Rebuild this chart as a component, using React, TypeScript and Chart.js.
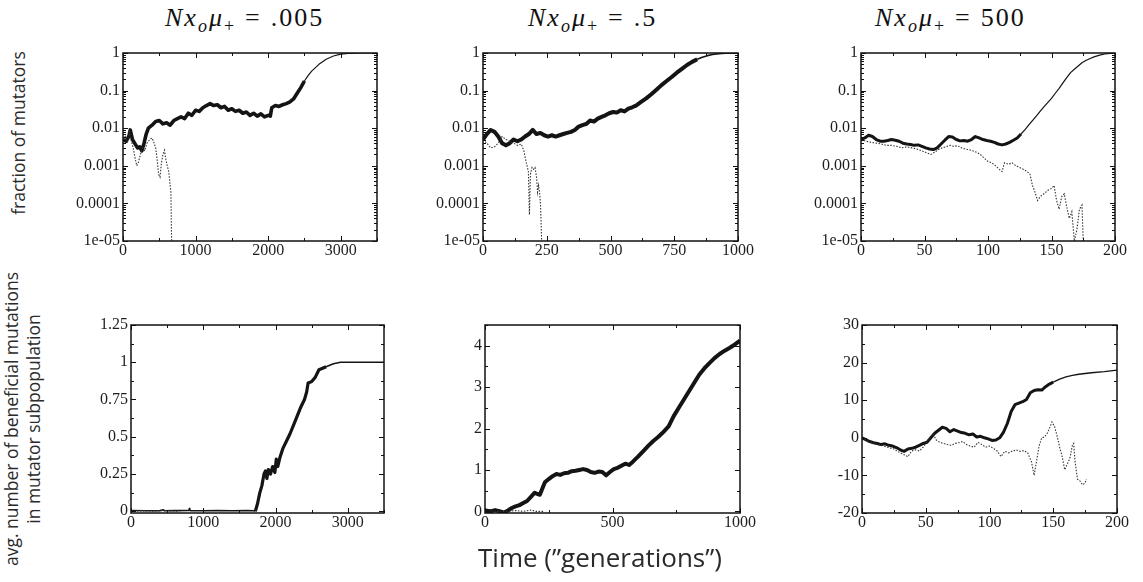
import React, { useEffect, useRef } from 'react';
import { Chart, registerables } from 'chart.js';

Chart.register(...registerables);

// ---------- tick values & labels ----------
const LOG_TICKS = [1e-5, 1e-4, 1e-3, 1e-2, 1e-1, 1];
const LOG_LABELS = ['1e-05', '0.0001', '0.001', '0.01', '0.1', '1'];
const X_TICKS_P1 = [0, 1000, 2000, 3000];
const X_TICKS_P2 = [0, 250, 500, 750, 1000];
const X_TICKS_P3 = [0, 50, 100, 150, 200];
const X_TICKS_P4 = [0, 1000, 2000, 3000];
const X_TICKS_P5 = [0, 500, 1000];
const X_TICKS_P6 = [0, 50, 100, 150, 200];
const Y_TICKS_P4 = [0, 0.25, 0.5, 0.75, 1, 1.25];
const Y_LABELS_P4 = ['0', '0.25', '0.5', '0.75', '1', '1.25'];
const Y_TICKS_P5 = [0, 1, 2, 3, 4];
const Y_LABELS_P5 = ['0', '1', '2', '3', '4'];
const Y_TICKS_P6 = [-20, -10, 0, 10, 20, 30];
const Y_LABELS_P6 = ['-20', '-10', '0', '10', '20', '30'];
const TITLE_VALUES = ['.005', '.5', '500'];
const Y_LABEL_TOP = 'fraction of mutators';
const Y_LABEL_BOTTOM = ['avg. number of beneficial mutations', 'in mutator subpopulation'];
const X_LABEL = 'Time (\u201Dgenerations\u201D)';

// ---------- data: [generation, value] ----------
// Panel 1 (Nxμ = .005), fraction of mutators
const P1_SURV: [number, number][] = [
  [0, .005], [40, .0045], [80, .006], [100, .009], [130, .005], [160, .004], [200, .003], [230, .0032], [260, .0025], [290, .004],
  [320, .007], [350, .01], [400, .012], [450, .015], [500, .016], [550, .013], [600, .014], [650, .012], [700, .016], [750, .018],
  [800, .02], [850, .018], [900, .025], [950, .022], [1000, .03], [1050, .028], [1100, .035], [1150, .04], [1200, .045], [1250, .04],
  [1300, .042], [1350, .035], [1400, .038], [1450, .03], [1500, .033], [1550, .028], [1600, .03], [1650, .025], [1700, .027], [1750, .022],
  [1800, .025], [1850, .021], [1900, .024], [1950, .02], [2000, .022], [2030, .021], [2050, .035], [2100, .04], [2150, .038], [2200, .042],
  [2250, .045], [2300, .05], [2350, .06], [2400, .085], [2450, .12], [2500, .18], [2550, .25], [2600, .33], [2700, .5], [2800, .68],
  [2900, .83], [3000, .93], [3100, .97], [3200, .99], [3300, 1], [3500, 1],
];
const P1_EXT: [number, number][] = [
  [0, .005], [30, .006], [60, .004], [90, .008], [110, .005], [140, .003], [170, .0015], [190, .001], [210, .0012], [240, .002],
  [270, .003], [300, .0025], [330, .004], [370, .005], [400, .0055], [420, .0045], [450, .003], [470, .0015], [490, .0006], [510, .0005],
  [530, .0012], [550, .002], [570, .0026], [590, .0015], [610, .001], [630, .0007], [650, .0003], [660, .0002], [665, .00004], [670, .00001],
];
// Panel 2 (Nxμ = .5)
const P2_SURV: [number, number][] = [
  [0, .005], [15, .007], [30, .009], [45, .008], [60, .006], [75, .004], [90, .0035], [105, .004], [120, .005], [135, .0045],
  [150, .005], [165, .006], [180, .007], [195, .009], [210, .007], [225, .0075], [240, .0065], [255, .006], [270, .0065], [285, .006],
  [300, .0065], [315, .007], [330, .0075], [345, .008], [360, .009], [375, .011], [390, .012], [405, .013], [420, .016], [435, .015],
  [450, .018], [465, .02], [480, .022], [495, .025], [510, .027], [525, .026], [540, .03], [555, .028], [570, .033], [585, .036],
  [600, .04], [620, .05], [640, .062], [660, .08], [680, .105], [700, .14], [720, .18], [740, .23], [760, .3], [780, .38],
  [800, .48], [820, .58], [840, .68], [860, .77], [880, .85], [900, .91], [925, .96], [950, .985], [975, .995], [1000, 1],
];
const P2_EXT: [number, number][] = [
  [0, .005], [15, .004], [30, .003], [45, .0032], [60, .004], [75, .006], [90, .005], [105, .0045], [120, .004], [135, .0035],
  [150, .0038], [160, .0025], [170, .0012], [178, .0007], [182, .00005], [186, .0006], [192, .0009], [198, .0008], [204, .0009], [210, .0005],
  [214, .0002], [218, .0003], [222, .0002], [226, .00008], [230, .00001],
];
// Panel 3 (Nxμ = 500)
const P3_SURV: [number, number][] = [
  [0, .005], [3, .0055], [6, .0065], [9, .006], [12, .005], [15, .0045], [18, .0045], [21, .0047], [24, .005], [27, .0048],
  [30, .0045], [33, .004], [36, .0038], [39, .0037], [42, .0035], [45, .0036], [48, .0033], [51, .003], [54, .0028], [57, .0027],
  [60, .003], [63, .0038], [66, .0048], [69, .006], [72, .0058], [75, .005], [78, .0046], [81, .0047], [84, .0045], [87, .005],
  [90, .006], [93, .0055], [96, .005], [99, .0047], [102, .0045], [105, .0042], [108, .0038], [111, .0036], [114, .0038], [117, .0042],
  [120, .0048], [123, .0055], [126, .007], [129, .009], [132, .012], [135, .016], [138, .021], [141, .028], [144, .037], [147, .048],
  [150, .062], [153, .085], [156, .115], [159, .16], [162, .22], [165, .3], [168, .37], [171, .45], [174, .55], [177, .63],
  [180, .7], [184, .8], [188, .88], [192, .94], [196, .98], [200, 1],
];
const P3_EXT: [number, number][] = [
  [0, .005], [4, .0045], [8, .0042], [12, .004], [16, .0038], [20, .0035], [24, .0035], [28, .0033], [32, .003], [36, .0032],
  [40, .003], [44, .0028], [48, .0025], [52, .0022], [55, .002], [58, .0023], [61, .0027], [64, .003], [67, .0032], [70, .0035],
  [73, .0033], [76, .0034], [79, .003], [82, .0028], [85, .0027], [88, .0025], [91, .0023], [94, .002], [97, .0016], [100, .0013],
  [103, .0012], [106, .001], [109, .0008], [111, .0007], [113, .0012], [116, .0011], [119, .0012], [122, .001], [125, .0009], [128, .0008],
  [131, .0007], [133, .0006], [135, .0003], [137, .0002], [139, .00012], [141, .00015], [144, .00018], [147, .00022], [150, .00025], [152, .0003],
  [154, .00012], [156, .00007], [158, .00015], [160, .00018], [162, .00008], [164, .00004], [166, .00006], [168, .00001], [170, .00002], [172, .00007],
  [174, .00009], [175, .00001],
];
// Panel 4 (Nxμ = .005), avg. beneficial mutations
const P4_SURV: [number, number][] = [
  [0, .005], [200, .003], [400, .004], [450, .01], [460, .003], [600, .004], [800, .005], [810, .02], [820, .004], [1000, .003],
  [1200, .004], [1400, .003], [1600, .004], [1700, .003], [1720, 0], [1750, .05], [1780, .12], [1810, .17], [1840, .25], [1860, .27],
  [1880, .22], [1900, .28], [1930, .25], [1960, .3], [1990, .26], [2010, .35], [2030, .3], [2060, .36], [2100, .42], [2150, .47],
  [2200, .52], [2250, .58], [2300, .64], [2350, .7], [2400, .75], [2430, .8], [2450, .86], [2500, .87], [2550, .9], [2600, .95],
  [2650, .96], [2700, .97], [2750, .98], [2800, .99], [2900, 1], [3000, 1], [3200, 1], [3500, 1],
];
const P4_EXT: [number, number][] = [
  [0, 0], [150, .003], [300, 0], [450, .004], [600, .001], [670, 0],
];
// Panel 5 (Nxμ = .5)
const P5_SURV: [number, number][] = [
  [0, .02], [20, 0], [40, .03], [60, 0], [75, -.03], [90, .02], [105, .08], [120, .12], [135, .15], [150, .2],
  [165, .25], [180, .35], [195, .45], [205, .42], [215, .4], [225, .55], [235, .7], [250, .78], [265, .85], [280, .9],
  [295, .88], [310, .92], [325, .93], [340, .97], [355, .98], [370, 1], [385, 1.02], [400, 1], [415, .95], [430, .93],
  [445, .96], [460, .95], [475, .87], [490, .95], [505, 1.02], [520, 1.05], [535, 1.1], [550, 1.15], [565, 1.12], [580, 1.2],
  [600, 1.32], [620, 1.45], [640, 1.58], [660, 1.7], [680, 1.8], [700, 1.92], [720, 2.05], [740, 2.3], [760, 2.5], [780, 2.7],
  [800, 2.9], [820, 3.1], [840, 3.3], [860, 3.45], [880, 3.58], [900, 3.7], [920, 3.8], [940, 3.88], [960, 3.95], [980, 4.03],
  [1000, 4.12],
];
const P5_EXT: [number, number][] = [
  [0, 0], [30, .01], [60, -.01], [90, 0], [120, .02], [150, 0], [180, .03], [200, 0], [229, 0],
];
// Panel 6 (Nxμ = 500)
const P6_SURV: [number, number][] = [
  [0, 0], [3, -.5], [6, -1], [9, -1.3], [12, -1.5], [15, -1.8], [18, -1.6], [21, -2], [24, -2.2], [27, -2.6],
  [30, -3.2], [33, -3.6], [36, -3], [39, -2.8], [42, -2.5], [45, -2], [48, -1.5], [51, -1.2], [54, 0], [57, 1.2],
  [60, 2], [63, 2.8], [66, 2.5], [69, 1.6], [72, 2.2], [75, 1.8], [78, 1.4], [81, 1.2], [84, .8], [87, 1],
  [90, .2], [93, .4], [96, 0], [99, -.3], [102, -.7], [105, -.6], [108, 0], [111, 1.5], [114, 3.8], [117, 7],
  [120, 8.8], [123, 9.2], [126, 9.6], [129, 10.2], [132, 12], [135, 12.6], [138, 12.8], [141, 12.7], [144, 13.6], [147, 14.3],
  [150, 14.8], [155, 15.6], [160, 16.2], [165, 16.6], [170, 16.9], [180, 17.3], [190, 17.6], [200, 18],
];
const P6_EXT: [number, number][] = [
  [0, 0], [5, -1], [10, -1.6], [15, -2], [20, -2.5], [25, -3], [30, -4], [33, -4.5], [36, -5], [39, -3.5],
  [42, -3.2], [45, -3.5], [48, -2.5], [51, -1], [54, .5], [56, 1], [58, -.5], [61, -1.2], [64, -1.5], [67, -1.8],
  [70, -2], [73, -1.5], [76, -1.3], [79, -1], [82, -1.8], [85, -2.2], [88, -2.5], [91, -1.2], [94, -1.8], [97, -2.5],
  [100, -2.2], [103, -2.8], [106, -3.5], [109, -5], [112, -3.6], [115, -4], [118, -3.5], [121, -3.2], [124, -3.6], [127, -3.4],
  [130, -4], [133, -6.5], [135, -10], [137, -6], [139, -2], [141, 0], [143, .2], [145, 1], [147, 2.5], [149, 4.2],
  [151, 3], [153, .5], [155, -2.5], [157, -5], [159, -8.5], [161, -7], [163, -5.5], [165, -2], [166, -1.5], [167, -6],
  [169, -11], [171, -11.5], [173, -12.5], [175, -12], [176, -11],
];

// ---------- layout ----------
const AXIS_L = 75;
const PAD_T = 14;
const PAD_R = 28;
const AXIS_B = 30;
const SERIF =
  '"Liberation Serif", "DejaVu Serif", "Noto Serif", "Tinos", "Times New Roman", "Nimbus Roman", "Nimbus Roman No9 L", "FreeSerif", "TeX Gyre Termes", "Latin Modern Roman", Times, serif';
const TICK_FONT = { family: SERIF, size: 16 };

type Panel = {
  left: number; top: number; w: number; h: number;
  xMax: number; xTicks: number[];
  log: boolean; yMin: number; yMax: number; yTicks: number[]; yLabels: string[];
  surv: [number, number][]; ext: [number, number][];
  thickFrom: number; thickTo: number; thick: number; thin: number;
};

const PANELS: Panel[] = [
  { left: 123, top: 53, w: 254, h: 188, xMax: 3500, xTicks: X_TICKS_P1, log: true, yMin: 1e-5, yMax: 1, yTicks: LOG_TICKS, yLabels: LOG_LABELS, surv: P1_SURV, ext: P1_EXT, thickFrom: 0, thickTo: 2500, thick: 3.6, thin: 1.2 },
  { left: 483, top: 53, w: 255, h: 188, xMax: 1000, xTicks: X_TICKS_P2, log: true, yMin: 1e-5, yMax: 1, yTicks: LOG_TICKS, yLabels: LOG_LABELS, surv: P2_SURV, ext: P2_EXT, thickFrom: 0, thickTo: 840, thick: 4, thin: 1.6 },
  { left: 861, top: 53, w: 254, h: 188, xMax: 200, xTicks: X_TICKS_P3, log: true, yMin: 1e-5, yMax: 1, yTicks: LOG_TICKS, yLabels: LOG_LABELS, surv: P3_SURV, ext: P3_EXT, thickFrom: 0, thickTo: 126, thick: 3, thin: 1.2 },
  { left: 131, top: 325, w: 253, h: 188, xMax: 3500, xTicks: X_TICKS_P4, log: false, yMin: -0.012, yMax: 1.25, yTicks: Y_TICKS_P4, yLabels: Y_LABELS_P4, surv: P4_SURV, ext: P4_EXT, thickFrom: 1720, thickTo: 2700, thick: 3.2, thin: 1.6 },
  { left: 485, top: 325, w: 255, h: 188, xMax: 1000, xTicks: X_TICKS_P5, log: false, yMin: -0.04, yMax: 4.5, yTicks: Y_TICKS_P5, yLabels: Y_LABELS_P5, surv: P5_SURV, ext: P5_EXT, thickFrom: 0, thickTo: 1000, thick: 4, thin: 1.6 },
  { left: 862, top: 325, w: 255, h: 188, xMax: 200, xTicks: X_TICKS_P6, log: false, yMin: -20, yMax: 30, yTicks: Y_TICKS_P6, yLabels: Y_LABELS_P6, surv: P6_SURV, ext: P6_EXT, thickFrom: 0, thickTo: 150, thick: 3, thin: 1.3 },
];

const TITLE_LEFTS = [165, 528, 875];

function linearMinor(ticks: number[], min: number, max: number): number[] {
  const step = ticks[1] - ticks[0];
  const half = step / 2;
  const out: number[] = [];
  for (let v = ticks[0] - half; v >= min - 1e-9; v -= step) out.push(v);
  for (let v = ticks[0] + half; v <= max + 1e-9; v += step) out.push(v);
  return out;
}
function logMinor(min: number, max: number): number[] {
  const out: number[] = [];
  for (let d = min; d < max * 0.999; d *= 10) for (let k = 2; k <= 9; k++) out.push(k * d);
  return out;
}

function PanelChart({ p }: { p: Panel }) {
  const ref = useRef<HTMLCanvasElement>(null);
  const cw = p.w + AXIS_L + PAD_R;
  const ch = p.h + PAD_T + AXIS_B;
  useEffect(() => {
    const xMinor = linearMinor(p.xTicks, 0, p.xMax);
    const yMinor = p.log ? logMinor(p.yMin, p.yMax) : linearMinor(p.yTicks, p.yMin, p.yMax);
    const frame = {
      id: 'frame',
      afterDatasetsDraw(chart: any) {
        const { ctx, chartArea: a } = chart;
        const xs = chart.scales.x;
        const ys = chart.scales.y;
        ctx.save();
        ctx.strokeStyle = '#111';
        ctx.lineWidth = 1;
        ctx.beginPath();
        const tx = (v: number, len: number) => {
          const px = Math.round(xs.getPixelForValue(v)) + 0.5;
          ctx.moveTo(px, a.bottom); ctx.lineTo(px, a.bottom - len);
          ctx.moveTo(px, a.top); ctx.lineTo(px, a.top + len);
        };
        const ty = (v: number, len: number) => {
          const py = Math.round(ys.getPixelForValue(v)) + 0.5;
          ctx.moveTo(a.left, py); ctx.lineTo(a.left + len, py);
          ctx.moveTo(a.right, py); ctx.lineTo(a.right - len, py);
        };
        p.xTicks.forEach((v) => tx(v, 5));
        xMinor.forEach((v) => tx(v, 3));
        p.yTicks.forEach((v) => ty(v, 5));
        yMinor.forEach((v) => ty(v, 3));
        ctx.stroke();
        ctx.lineWidth = 1.5;
        ctx.strokeRect(a.left, a.top, a.right - a.left, a.bottom - a.top);
        ctx.restore();
      },
    };
    const chart = new Chart(ref.current as HTMLCanvasElement, {
      type: 'line',
      data: {
        datasets: [
          {
            data: p.ext.map(([x, y]) => ({ x, y })),
            borderColor: '#333',
            borderWidth: 1.1,
            borderDash: [1.5, 1.5],
            pointRadius: 0,
            tension: 0,
          },
          {
            data: p.surv.map(([x, y]) => ({ x, y })),
            borderColor: '#141414',
            borderWidth: p.thin,
            borderJoinStyle: 'round',
            pointRadius: 0,
            tension: 0,
            segment: {
              borderWidth: (c: any) => {
                const x0 = c.p0.parsed.x;
                return x0 >= p.thickFrom && x0 < p.thickTo ? p.thick : p.thin;
              },
            },
          },
        ] as any,
      },
      options: {
        responsive: false,
        animation: false,
        devicePixelRatio: 1,
        layout: { padding: { top: PAD_T, right: PAD_R, left: 0, bottom: 0 } },
        plugins: { legend: { display: false }, tooltip: { enabled: false }, title: { display: false } },
        scales: {
          x: {
            type: 'linear',
            min: 0,
            max: p.xMax,
            grid: { display: false, drawTicks: false },
            border: { display: false },
            ticks: {
              font: TICK_FONT, color: '#1e1e1e', padding: 0, autoSkip: false, maxRotation: 0,
              callback: (v: any) => String(v),
            },
            afterBuildTicks: (s: any) => { s.ticks = p.xTicks.map((v) => ({ value: v })); },
            afterFit: (s: any) => { s.height = AXIS_B; },
          },
          y: {
            type: p.log ? 'logarithmic' : 'linear',
            min: p.yMin,
            max: p.yMax,
            grid: { display: false, drawTicks: false },
            border: { display: false },
            ticks: {
              font: TICK_FONT, color: '#1e1e1e', padding: 3, autoSkip: false,
              callback: (_v: any, i: number) => p.yLabels[i],
            },
            afterBuildTicks: (s: any) => { s.ticks = p.yTicks.map((v) => ({ value: v })); },
            afterFit: (s: any) => { s.width = AXIS_L; },
          },
        },
      } as any,
      plugins: [frame],
    });
    return () => chart.destroy();
  }, []);
  return (
    <canvas
      ref={ref}
      width={cw}
      height={ch}
      style={{ position: 'absolute', left: p.left - AXIS_L, top: p.top - PAD_T, width: cw, height: ch }}
    />
  );
}

function Title({ left, value }: { left: number; value: string }) {
  const sub: React.CSSProperties = { position: 'relative', top: 6, fontSize: 18 };
  return (
    <div
      style={{
        position: 'absolute', left, top: 3, fontFamily: SERIF, fontSize: 26,
        lineHeight: '30px', whiteSpace: 'nowrap', color: '#111', letterSpacing: '2px',
      }}
    >
      <i>N</i><i>x</i><i style={sub}>o</i><i>μ</i><span style={sub}>+</span>
      <span style={{ margin: '0 9px' }}>=</span>{value}
    </div>
  );
}

export default function App() {
  const sans = '"Open Sans", "DejaVu Sans", sans-serif';
  return (
    <div style={{ position: 'fixed', left: 0, top: 0, width: 1143, height: 582, background: '#fff', overflow: 'hidden' }}>
      {PANELS.map((p, i) => <PanelChart key={i} p={p} />)}
      {TITLE_VALUES.map((v, i) => <Title key={i} left={TITLE_LEFTS[i]} value={v} />)}
      <div
        style={{
          position: 'absolute', left: 18, top: 133, transform: 'translate(-50%,-50%) rotate(-90deg)',
          fontFamily: sans, fontSize: 17.5, lineHeight: '21px', whiteSpace: 'nowrap', color: '#2a2a2a',
        }}
      >
        {Y_LABEL_TOP}
      </div>
      <div
        style={{
          position: 'absolute', left: 22, top: 419, transform: 'translate(-50%,-50%) rotate(-90deg)',
          fontFamily: sans, fontSize: 17.5, lineHeight: '22px', whiteSpace: 'nowrap', color: '#2a2a2a', textAlign: 'center',
        }}
      >
        {Y_LABEL_BOTTOM[0]}<br />{Y_LABEL_BOTTOM[1]}
      </div>
      <div
        style={{
          position: 'absolute', left: 600, top: 541, transform: 'translateX(-50%)',
          fontFamily: sans, fontSize: 26, lineHeight: '32px', whiteSpace: 'nowrap', color: '#2a2a2a',
        }}
      >
        {X_LABEL}
      </div>
    </div>
  );
}
